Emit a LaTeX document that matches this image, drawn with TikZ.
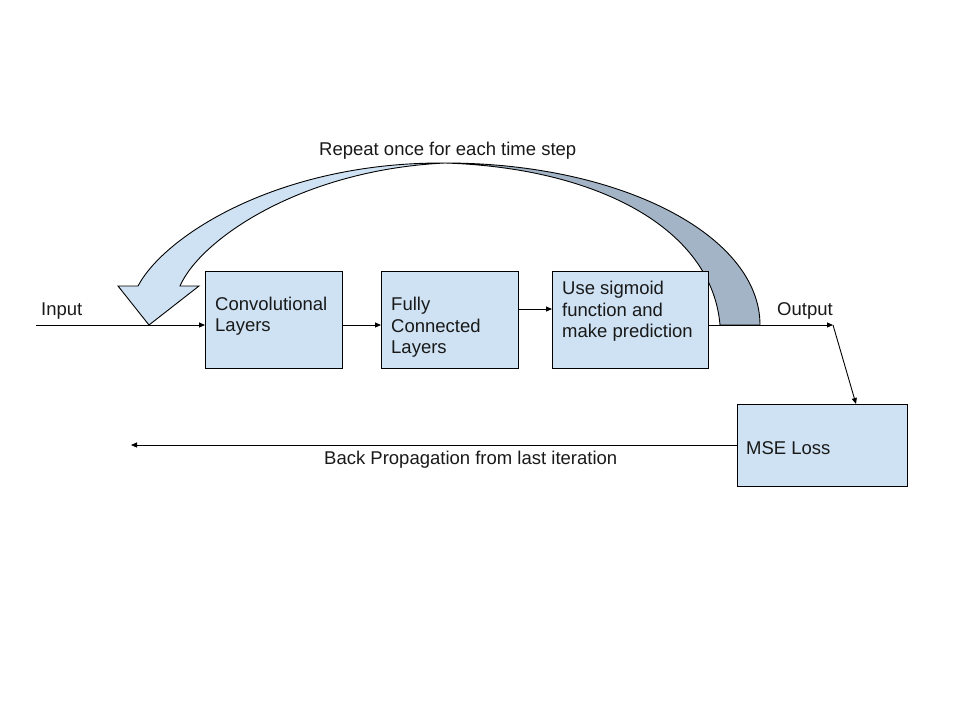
\documentclass[tikz,border=0pt]{standalone}
\usepackage{fontspec}
\setmainfont{Liberation Sans}
\usetikzlibrary{arrows.meta}
\definecolor{boxblue}{HTML}{CFE2F3}
\definecolor{shadeblue}{HTML}{A3B4C6}
\tikzset{
  box/.style={draw=black, line width=0.9pt, fill=boxblue, inner sep=0pt, outer sep=0pt},
  txt/.style={font=\fontsize{18.5}{21.5}\selectfont, inner sep=0pt, align=left, anchor=west, text=black!90},
  arr/.style={line width=0.9pt, -{Triangle[length=6pt,width=5pt]}},
  band/.style={draw=black, line width=0.9pt, line join=miter}
}
\begin{document}
\begin{tikzpicture}[x=1pt,y=-1pt]
\useasboundingbox (0,0) rectangle (960,720);
% curved block arrow (drawn behind the boxes)
\draw[band, fill=boxblue] (138,286) .. controls (165,235) and (280,162) .. (445,163)
  .. controls (300,170) and (200,240) .. (180,286) -- (199,286) -- (149,325) -- (118,286) -- cycle;
\draw[band, fill=shadeblue] (445,163) .. controls (620,163) and (760,235) .. (760,325)
  -- (720,325) .. controls (712,230) and (600,168) .. (445,163) -- cycle;
% boxes
\node[box, minimum width=137pt, minimum height=97pt] (conv) at (273.5,319.5) {};
\node[box, minimum width=137pt, minimum height=97pt] (fc) at (449.5,319.5) {};
\node[box, minimum width=156pt, minimum height=97pt] (sig) at (630,319.5) {};
\node[box, minimum width=170pt, minimum height=82pt] (mse) at (822,445) {};
% box texts
\node[txt] (convt) at (215,316) {Convolutional\\Layers};
\node[txt] (fct) at (391,327.5) {Fully\\Connected\\Layers};
\node[txt] (sigt) at (562,311.5) {Use sigmoid\\function and\\make prediction};
\node[txt] (mset) at (746,448) {MSE Loss};
% free labels
\node[txt] (inl) at (41,311) {Input};
\node[txt] (outl) at (777,311) {Output};
\node[txt] (rep) at (319,151) {Repeat once for each time step};
\node[txt] (bpl) at (324,460) {Back Propagation from last iteration};
% connectors
\coordinate (inp) at (36,325);
\coordinate (outp) at (833,325);
\coordinate (bp) at (131,445);
\coordinate (msein) at (856,404);
\draw[arr] (inp) -- (inp -| conv.west);
\draw[arr] (conv.east |- inp) -- (fc.west |- inp);
\draw[arr] ([yshift=10.5pt]fc.east) -- ([yshift=10.5pt]sig.west);
\draw[arr] (sig.east |- outp) -- (outp);
\draw[arr] (outp) -- (msein);
\draw[arr] (mse.west) -- (bp);
\end{tikzpicture}
\end{document}
